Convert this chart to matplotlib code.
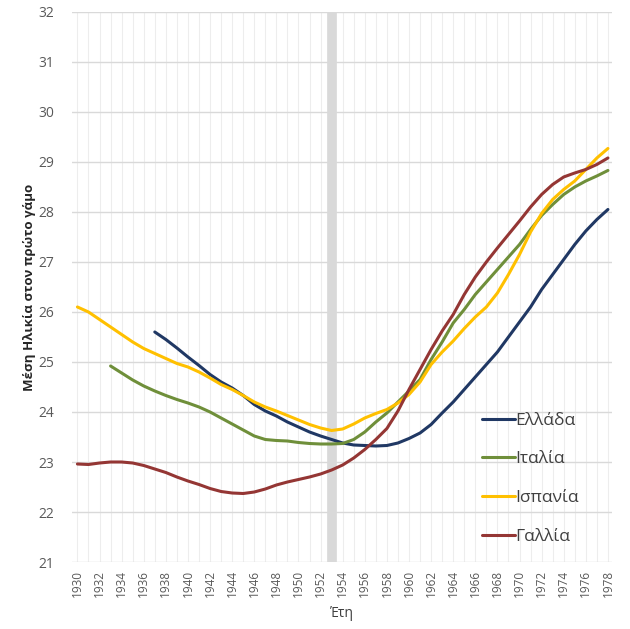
import numpy as np
import matplotlib
matplotlib.use("Agg")
import matplotlib.pyplot as plt

plt.rcParams['font.family'] = ['Open Sans', 'DejaVu Sans']

# mean age at first marriage
years_all = list(range(1930, 1979))

greece_years = list(range(1937, 1979))
greece = [25.6, 25.45, 25.28, 25.1, 24.93, 24.75, 24.6, 24.48, 24.33, 24.15,
          24.02, 23.92, 23.8, 23.7, 23.6, 23.52, 23.45, 23.38, 23.34, 23.33,
          23.32, 23.33, 23.38, 23.47, 23.58, 23.75, 23.98, 24.2, 24.45, 24.7,
          24.95, 25.2, 25.5, 25.8, 26.1, 26.45, 26.75, 27.05, 27.35, 27.62,
          27.85, 28.05]

italy_years = list(range(1933, 1979))
italy = [24.92, 24.78, 24.64, 24.52, 24.42, 24.33, 24.25, 24.18, 24.1, 24.0,
         23.88, 23.76, 23.64, 23.52, 23.45, 23.43, 23.42, 23.39, 23.37, 23.36,
         23.36, 23.37, 23.45, 23.6, 23.8, 23.98, 24.2, 24.42, 24.65, 25.05,
         25.4, 25.78, 26.05, 26.35, 26.6, 26.85, 27.1, 27.35, 27.65, 27.93,
         28.15, 28.35, 28.5, 28.62, 28.72, 28.83]

spain = [26.1, 26.0, 25.85, 25.7, 25.55, 25.4, 25.27, 25.17, 25.07, 24.97,
         24.9, 24.8, 24.68, 24.55, 24.45, 24.33, 24.2, 24.1, 24.02, 23.93,
         23.84, 23.75, 23.68, 23.63, 23.66, 23.76, 23.88, 23.97, 24.05, 24.18,
         24.35, 24.6, 24.95, 25.2, 25.42, 25.67, 25.9, 26.1, 26.38, 26.75,
         27.15, 27.6, 27.97, 28.25, 28.45, 28.62, 28.85, 29.08, 29.27]

france = [22.96, 22.95, 22.98, 23.0, 23.0, 22.98, 22.93, 22.86, 22.79, 22.7,
          22.62, 22.55, 22.47, 22.41, 22.38, 22.37, 22.4, 22.46, 22.54, 22.6,
          22.65, 22.7, 22.76, 22.84, 22.94, 23.08, 23.25, 23.45, 23.67, 24.02,
          24.45, 24.85, 25.25, 25.62, 25.95, 26.35, 26.7, 27.0, 27.28, 27.55,
          27.82, 28.1, 28.35, 28.55, 28.7, 28.78, 28.85, 28.95, 29.08]

marker_year = 1953
labels = ['Ελλάδα', 'Ιταλία', 'Ισπανία', 'Γαλλία']
colors = ['#203864', '#6F8F3A', '#FFC000', '#943634']

fig = plt.figure(figsize=(6.30, 6.29), dpi=100)
ax = fig.add_axes([0.115, 0.1065, 0.857, 0.8745])

ax.set_xlim(1929.55, 1978.4)
ax.set_ylim(21, 32)

# faint yearly vertical grid and horizontal grid
for yr in years_all:
    ax.axvline(yr, color='#EDEDED', lw=0.8, zorder=0)
ax.set_yticks(range(21, 33))
ax.yaxis.grid(True, color='#D9D9D9', lw=1.0, zorder=0)

ax.axvline(marker_year, color='#D9D9D9', lw=7, zorder=1)

series = [(greece_years, greece), (italy_years, italy),
          (years_all, spain), (years_all, france)]
for (xs, ys), lab, c in zip(series, labels, colors):
    ax.plot(xs, ys, color=c, lw=2.2, label=lab, zorder=3,
            solid_capstyle='round')

ax.set_xticks(years_all[::2])
ax.set_xticklabels([str(y) for y in years_all[::2]], rotation=90)
ax.tick_params(axis='both', length=0, colors='#595959')
ax.tick_params(axis='x', pad=6, labelsize=8.5)
ax.tick_params(axis='y', pad=13, labelsize=10)
for s in ax.spines.values():
    s.set_visible(False)

ax.set_xlabel('Έτη', fontsize=10, color='#404040', labelpad=6)
ax.set_ylabel('Μέση Ηλικία στον πρώτο γάμο', fontsize=9.5,
              fontweight='bold', color='#262626', labelpad=2)

leg = ax.legend(loc='upper left', bbox_to_anchor=(0.73, 0.3),
                frameon=False, fontsize=12.5, handlelength=1.9,
                handletextpad=0.0, labelspacing=1.3)
for t in leg.get_texts():
    t.set_color('#404040')

fig.savefig('out.png', dpi=100, facecolor='white')
